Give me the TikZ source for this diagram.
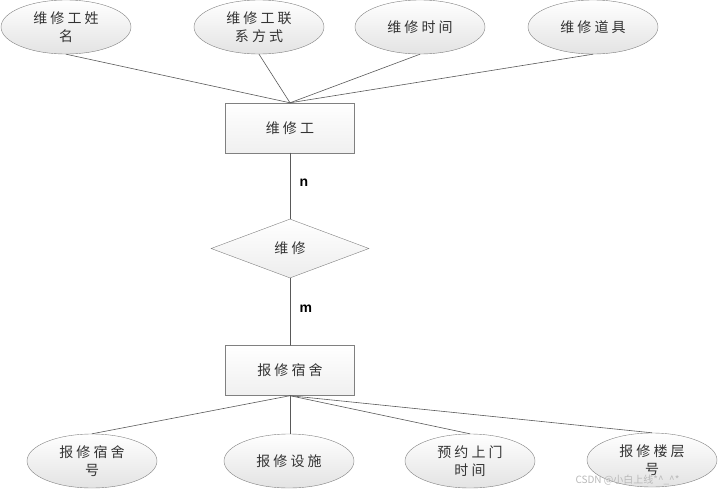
\documentclass[tikz,border=0pt]{standalone}
\usepackage{fontspec}
\setmainfont{Liberation Serif}
\newfontfamily\cjk[LetterSpace=22]{Noto Sans CJK SC}
\newfontfamily\cjkmark{Noto Sans CJK SC}
\newfontfamily\latinsans{Liberation Sans}
\usepackage{tikz}
\usetikzlibrary{shapes.geometric}

\begin{document}
\begin{tikzpicture}[x=1pt,y=-1pt,line cap=round,
  attr/.style={ellipse,draw=gray,top color=white,bottom color=gray!22,
    minimum width=130,minimum height=54,inner sep=0pt,align=center,
    font=\cjk\fontsize{14}{18}\selectfont,text=black!80},
  entity/.style={rectangle,draw=gray,top color=white,bottom color=gray!12,
    minimum width=129,minimum height=50,font=\cjk\fontsize{14}{18}\selectfont,text=black!80},
  rel/.style={diamond,aspect=2.7,draw=gray,top color=white,bottom color=gray!14,
    minimum width=158,minimum height=59,inner sep=0pt,font=\cjk\fontsize{14}{18}\selectfont,text=black!80},
  link/.style={draw=black!65,line width=0.6pt},
  card/.style={font=\latinsans\bfseries\fontsize{14}{16}\selectfont}]
\useasboundingbox (0,0) rectangle (721,490);
% attributes of the worker
\node[attr] (wname) at (66,27) {维修工姓\\名};
\node[attr] (wtel) at (259,27) {维修工联\\系方式};
\node[attr] (wtime) at (420,27) {维修时间};
\node[attr] (wtool) at (593,27) {维修道具};
% entities and relation
\node[entity] (worker) at (290,128) {维修工};
\node[rel] (repair) at (290,248.5) {维修};
\node[entity] (dorm) at (290,370.5) {报修宿舍};
% attributes of the dorm
\node[attr] (dno) at (92,461) {报修宿舍\\号};
\node[attr] (dfac) at (289,461) {报修设施};
\node[attr] (dappt) at (470,461) {预约上门\\时间};
\node[attr] (dfloor) at (652,460) {报修楼层\\号};
\draw[link] (wname.south) -- (worker.north);
\draw[link] (wtel.south) -- (worker.north);
\draw[link] (wtime.south) -- (worker.north);
\draw[link] (wtool.south) -- (worker.north);
\draw[link] (worker) -- node[card,right=6pt,pos=0.45] (n) {n} (repair);
\draw[link] (repair) -- node[card,right=6pt,pos=0.45] (m) {m} (dorm);
\draw[link] (dorm.south) -- (dno.north);
\draw[link] (dorm.south) -- (dorm.south |- dfac.north);
\draw[link] (dorm.south) -- (dappt.north);
\draw[link] (dorm.south) -- (dfloor.north);
\node[anchor=west,text=gray!55,font=\cjkmark\fontsize{10}{12}\selectfont] (mark) at (572,480) {CSDN @小白上线*\^{}\_\^{}*};
\end{tikzpicture}
\end{document}
